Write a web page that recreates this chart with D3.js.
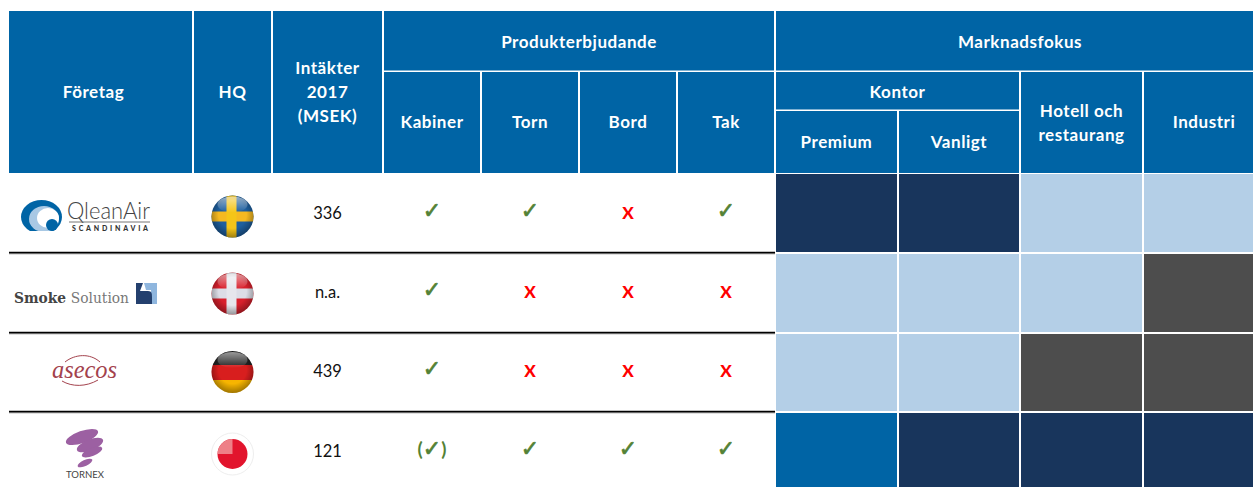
<!DOCTYPE html>
<html>
<head>
<meta charset="utf-8">
<script src="https://cdn.jsdelivr.net/npm/d3@7"></script>
<style>
  html, body { margin: 0; padding: 0; background: #fff; }
  svg { display: block; font-family: Lato, "Open Sans", sans-serif; }
</style>
</head>
<body>
<div id="chart"></div>
<script>
// Table content
var companies = ["QleanAir", "Smoke Solution", "asecos", "Tornex"];
var countries = ["Sverige", "Danmark", "Tyskland", "Japan"];
var revenues = ["336", "n.a.", "439", "121"];
var productColumns = ["Kabiner", "Torn", "Bord", "Tak"];
var marketColumns = ["Premium", "Vanligt", "Hotell", "Industri"];

// y = erbjuder, p = delvis, n = erbjuder inte
var kabiner = ["y", "y", "y", "p"];
var torn = ["y", "n", "n", "y"];
var bord = ["n", "n", "n", "y"];
var tak = ["y", "n", "n", "y"];

// grad av marknadsfokus per bolag
var premium = ["hog", "lag", "lag", "medel"];
var vanligt = ["hog", "lag", "lag", "hog"];
var hotell = ["lag", "lag", "ingen", "hog"];
var industri = ["lag", "ingen", "ingen", "hog"];

var width = 1253, height = 487;
var blue = "#0064a5";

var svg = d3.select("#chart").append("svg")
  .attr("width", width)
  .attr("height", height);
var defs = svg.append("defs");

// Column and row edges of the table (the last column runs off the picture)
var colEdges = [9, 194, 273, 384, 482, 580, 678, 776, 899, 1021, 1144, 1266];
var rowEdges = [173, 253, 333, 412, 490];
var allColumns = ["Företag", "HQ", "Intäkter"].concat(productColumns, marketColumns);
var x = d3.scaleOrdinal().domain(allColumns).range(colEdges.slice(0, -1));
var xEnd = d3.scaleOrdinal().domain(allColumns).range(colEdges.slice(1));
var xMid = function(c) { return (x(c) + xEnd(c)) / 2; };
var y = d3.scaleOrdinal().domain(companies).range(rowEdges.slice(0, -1));
var yEnd = d3.scaleOrdinal().domain(companies).range(rowEdges.slice(1));
var yMid = d3.scaleOrdinal().domain(companies).range([213, 292, 371, 451]);
var heat = d3.scaleOrdinal()
  .domain(["hog", "medel", "lag", "ingen"])
  .range(["#18355c", "#0064a5", "#b4cfe7", "#4d4d4d"]);

// Header boxes: [label lines, left column, right column, top, bottom, label centre y]
var headerTop = 11, headerMid = 72, headerSub = 111, headerBottom = 173;
var headers = [
  [["Företag"], "Företag", "Företag", headerTop, headerBottom, 92],
  [["HQ"], "HQ", "HQ", headerTop, headerBottom, 92],
  [["Intäkter", "2017", "(MSEK)"], "Intäkter", "Intäkter", headerTop, headerBottom, 92.5],
  [["Produkterbjudande"], "Kabiner", "Tak", headerTop, headerMid, 42],
  [["Kabiner"], "Kabiner", "Kabiner", headerMid, headerBottom, 122.5],
  [["Torn"], "Torn", "Torn", headerMid, headerBottom, 122.5],
  [["Bord"], "Bord", "Bord", headerMid, headerBottom, 122.5],
  [["Tak"], "Tak", "Tak", headerMid, headerBottom, 122.5],
  [["Marknadsfokus"], "Premium", "Industri", headerTop, headerMid, 42],
  [["Kontor"], "Premium", "Vanligt", headerMid, headerSub, 92],
  [["Premium"], "Premium", "Premium", headerSub, headerBottom, 142.5],
  [["Vanligt"], "Vanligt", "Vanligt", headerSub, headerBottom, 142.5],
  [["Hotell och", "restaurang"], "Hotell", "Hotell", headerMid, headerBottom, 123.5],
  [["Industri"], "Industri", "Industri", headerMid, headerBottom, 122.5]
];

var head = svg.selectAll("g.head").data(headers).enter().append("g").attr("class", "head");
head.append("rect")
  .attr("x", function(d) { return x(d[1]); })
  .attr("y", function(d) { return d[3]; })
  .attr("width", function(d) { return xEnd(d[2]) - x(d[1]) - 2; })
  .attr("height", function(d) { return d[4] - d[3] - (d[4] == headerBottom ? 0 : 1.5); })
  .attr("fill", blue);
head.each(function(d) {
  var cx = (x(d[1]) + xEnd(d[2]) - 2) / 2;
  // the label of the first column is not centred in its box
  if (d[1] == "Företag") cx = 93.5;
  d[0].forEach(function(line, i) {
    d3.select(this).append("text")
      .attr("x", cx)
      .attr("y", d[5] + (i - (d[0].length - 1) / 2) * 24)
      .attr("dy", "0.35em")
      .attr("text-anchor", "middle")
      .attr("fill", "#fff")
      .attr("font-size", 17)
      .attr("letter-spacing", 0.55)
      .attr("font-weight", 700)
      .text(line);
  }, this);
});

// Heat cells
var marketData = {Premium: premium, Vanligt: vanligt, Hotell: hotell, Industri: industri};
marketColumns.forEach(function(col) {
  svg.append("g").selectAll("rect")
    .data(marketData[col])
    .enter().append("rect")
    .attr("x", x(col))
    .attr("y", function(d, i) { return y(companies[i]) + 1; })
    .attr("width", xEnd(col) - x(col) - 2)
    .attr("height", function(d, i) { return yEnd(companies[i]) - y(companies[i]) - 2; })
    .attr("fill", function(d) { return heat(d); });
});

// Row separators
svg.append("g").selectAll("g")
  .data(companies.slice(1))
  .enter().append("g")
  .each(function(d) {
    var g = d3.select(this);
    g.append("line").attr("x1", 9).attr("x2", 775).attr("y1", y(d) - 0.3).attr("y2", y(d) - 0.3)
      .attr("stroke", "#000").attr("stroke-width", 2);
    g.append("line").attr("x1", 9).attr("x2", 775).attr("y1", y(d) + 1.1).attr("y2", y(d) + 1.1)
      .attr("stroke", "#bbb").attr("stroke-width", 0.8);
  });

// Revenue
svg.append("g").selectAll("text")
  .data(revenues)
  .enter().append("text")
  .attr("x", xMid("Intäkter") - 1)
  .attr("y", function(d, i) { return yMid(companies[i]) + 0.5; })
  .attr("dy", "0.35em")
  .attr("text-anchor", "middle")
  .attr("font-size", 16.5)
  .attr("fill", "#111")
  .text(function(d) { return d; });

// Product marks
var productData = {Kabiner: kabiner, Torn: torn, Bord: bord, Tak: tak};
productColumns.forEach(function(col) {
  svg.append("g").selectAll("text")
    .data(productData[col])
    .enter().append("text")
    .attr("x", xMid(col) - 1)
    .attr("y", function(d, i) { return yMid(companies[i]) + (d == "n" ? 0 : -1); })
    .attr("dy", "0.35em")
    .attr("text-anchor", "middle")
    .attr("fill", function(d) { return d == "n" ? "#f00" : "#548235"; })
    .each(function(d) {
      var t = d3.select(this);
      if (d == "n") {
        t.attr("font-size", 17).attr("font-weight", 900).text("X");
        return;
      }
      if (d == "p") t.append("tspan").attr("font-size", 19).attr("font-weight", 700).text("(");
      t.append("tspan").attr("font-family", "DejaVu Sans").attr("font-size", 22)
        .attr("stroke", "#548235").attr("stroke-width", 0.7).text("✓");
      if (d == "p") t.append("tspan").attr("font-size", 19).attr("font-weight", 700).text(")");
    });
});

// Flags
var flagX = xMid("HQ") - 1, flagR = 21;
var flagY = d3.scaleOrdinal().domain(countries).range([216.5, 293.5, 372, 454]);
var gloss = defs.append("radialGradient").attr("id", "gloss")
  .attr("cx", "50%").attr("cy", "45%").attr("r", "55%");
gloss.append("stop").attr("offset", "0.6").attr("stop-color", "#000").attr("stop-opacity", 0);
gloss.append("stop").attr("offset", "1").attr("stop-color", "#000").attr("stop-opacity", 0.35);
var shine = defs.append("linearGradient").attr("id", "shine").attr("x1", 0).attr("x2", 0).attr("y1", 0).attr("y2", 1);
shine.append("stop").attr("offset", 0).attr("stop-color", "#fff").attr("stop-opacity", 0.55);
shine.append("stop").attr("offset", 1).attr("stop-color", "#fff").attr("stop-opacity", 0);

countries.forEach(function(c, i) {
  var cy = flagY(c);
  defs.append("clipPath").attr("id", "flag" + i).append("circle")
    .attr("cx", flagX).attr("cy", cy).attr("r", flagR);
  var g = svg.append("g").attr("clip-path", "url(#flag" + i + ")");
  var band = function(x0, y0, w, h, fill) {
    g.append("rect").attr("x", flagX + x0).attr("y", cy + y0).attr("width", w).attr("height", h).attr("fill", fill);
  };
  if (c == "Sverige") {
    band(-22, -22, 44, 44, "#1e5f9e");
    band(-22, -5, 44, 10, "#f5b921");
    band(-6, -22, 10, 44, "#f5c518");
  } else if (c == "Danmark") {
    band(-22, -22, 44, 44, "#d8202c");
    band(-22, -5, 44, 10, "#dcdde6");
    band(-6, -22, 10, 44, "#e6e6ec");
  } else if (c == "Tyskland") {
    band(-22, -22, 44, 15, "#222");
    band(-22, -7, 44, 15, "#d81e1e");
    band(-22, 8, 44, 14, "#f7b500");
  } else {
    band(-22, -22, 44, 44, "#fff");
    g.append("circle").attr("cx", flagX).attr("cy", cy).attr("r", 15).attr("fill", "#e2142d");
    g.append("path")
      .attr("d", d3.arc()({innerRadius: 0, outerRadius: 15, startAngle: -Math.PI / 2, endAngle: 0}))
      .attr("transform", "translate(" + flagX + "," + cy + ")")
      .attr("fill", "#ee7f87");
  }
  if (c != "Japan") {
    svg.append("circle").attr("cx", flagX).attr("cy", cy).attr("r", flagR).attr("fill", "url(#gloss)");
    svg.append("ellipse").attr("cx", flagX).attr("cy", cy - 12).attr("rx", 15).attr("ry", 8).attr("fill", "url(#shine)");
  } else {
    svg.append("circle").attr("cx", flagX).attr("cy", cy).attr("r", flagR)
      .attr("fill", "none").attr("stroke", "#eee").attr("stroke-width", 1);
  }
});

// Company logos
function logoQlean(g) {
  g.append("ellipse").attr("cx", 41.5).attr("cy", 217).attr("rx", 20.5).attr("ry", 17).attr("fill", "#0064a5");
  g.append("ellipse").attr("cx", 44).attr("cy", 219).attr("rx", 15).attr("ry", 13).attr("fill", "#a8c8e4");
  g.append("ellipse").attr("cx", 48).attr("cy", 218).attr("rx", 11).attr("ry", 10).attr("fill", "#fff");
  g.append("rect").attr("x", 20).attr("y", 231).attr("width", 44).attr("height", 5).attr("fill", "#fff");
  g.append("circle").attr("cx", 52).attr("cy", 225).attr("r", 6).attr("fill", "#0064a5");
  g.append("text").attr("x", 67).attr("y", 219).attr("font-size", 24).attr("font-weight", 300)
    .attr("fill", "#444").attr("textLength", 83).attr("lengthAdjust", "spacingAndGlyphs").text("QleanAir");
  g.append("line").attr("x1", 69).attr("x2", 150).attr("y1", 222).attr("y2", 222).attr("stroke", "#777");
  g.append("text").attr("x", 72).attr("y", 231).attr("font-size", 7).attr("font-weight", 900)
    .attr("fill", "#333").attr("textLength", 76).text("SCANDINAVIA");
}
function logoSmoke(g) {
  g.append("text").attr("x", 14).attr("y", 303).attr("font-size", 15)
    .attr("font-family", "DejaVu Serif, Liberation Serif, serif")
    .attr("textLength", 115).attr("lengthAdjust", "spacingAndGlyphs")
    .call(function(t) {
      t.append("tspan").attr("font-weight", 700).attr("fill", "#444").text("Smoke ");
      t.append("tspan").attr("fill", "#777").text("Solution");
    });
  g.append("path").attr("d", "M144 283h13v21h-6v-14h-5z").attr("fill", "#8fb6de");
  g.append("path").attr("d", "M136 283h7l-3 8h8c4 0 4 3 4 6v7h-16z").attr("fill", "#24406e");
}
function logoAsecos(g) {
  g.append("text").attr("x", 52).attr("y", 378).attr("font-size", 25).attr("font-style", "italic")
    .attr("font-family", "Liberation Serif, serif").attr("fill", "#a3424d")
    .attr("textLength", 65).attr("lengthAdjust", "spacingAndGlyphs").text("asecos");
  g.append("path").attr("d", "M65 362c10-8 25-9 35 0").attr("fill", "none").attr("stroke", "#a3424d");
  g.append("path").attr("d", "M62 381c10 6 24 6 36-1").attr("fill", "none").attr("stroke", "#a3424d");
}
function logoTornex(g) {
  var purple = "#9c60a2";
  g.append("ellipse").attr("cx", 82).attr("cy", 437).attr("rx", 17).attr("ry", 6)
    .attr("transform", "rotate(-20 82 437)").attr("fill", purple);
  g.append("ellipse").attr("cx", 90).attr("cy", 445).attr("rx", 14).attr("ry", 5.5)
    .attr("transform", "rotate(-22 90 445)").attr("fill", purple);
  g.append("ellipse").attr("cx", 92).attr("cy", 452).attr("rx", 11).attr("ry", 4)
    .attr("transform", "rotate(-22 92 452)").attr("fill", purple);
  g.append("ellipse").attr("cx", 85).attr("cy", 463).attr("rx", 8).attr("ry", 3)
    .attr("transform", "rotate(-25 85 463)").attr("fill", purple);
  g.append("text").attr("x", 66).attr("y", 478).attr("font-size", 10).attr("fill", "#444")
    .attr("textLength", 38).attr("lengthAdjust", "spacingAndGlyphs").text("TORNEX");
}
[logoQlean, logoSmoke, logoAsecos, logoTornex].forEach(function(draw, i) {
  draw(svg.append("g").attr("class", "logo").attr("data-company", companies[i]));
});
</script>
</body>
</html>
